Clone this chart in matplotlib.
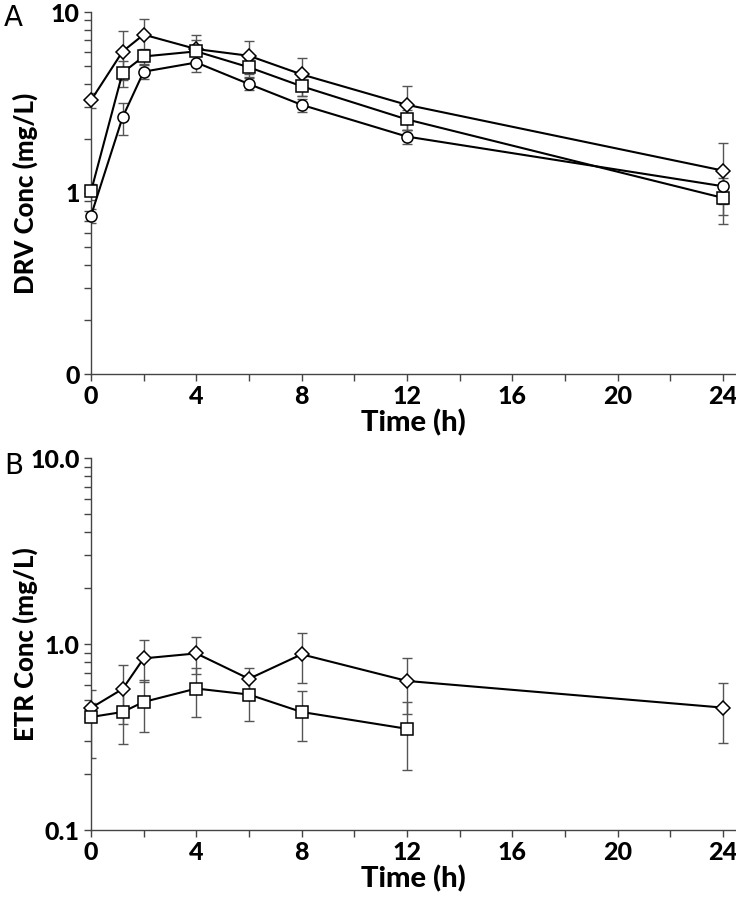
import matplotlib
matplotlib.use("Agg")
import matplotlib.pyplot as plt
from matplotlib.ticker import FixedLocator, FixedFormatter, LogLocator, NullFormatter

# ---- data ----
times = [0, 1.2, 2, 4, 6, 8, 12, 24]
times_etr_sq = [0, 1.2, 2, 4, 6, 8, 12]

drv_diamond = [3.25, 6.05, 7.5, 6.24, 5.73, 4.52, 3.07, 1.33]
drv_diamond_sd = [0.30, 1.85, 1.70, 1.20, 1.20, 1.08, 0.85, 0.57]
drv_square = [1.02, 4.62, 5.68, 6.06, 4.95, 3.89, 2.55, 0.94]
drv_square_sd = [0.10, 0.75, 0.55, 0.90, 0.55, 0.47, 0.31, 0.27]
drv_circle = [0.75, 2.62, 4.68, 5.26, 4.00, 3.07, 2.05, 1.09]
drv_circle_sd = [0.07, 0.52, 0.42, 0.58, 0.30, 0.25, 0.19, 0.22]

etr_diamond = [0.453, 0.573, 0.837, 0.89, 0.65, 0.88, 0.633, 0.455]
etr_diamond_sd = [0.03, 0.20, 0.21, 0.20, 0.09, 0.26, 0.21, 0.16]
etr_square = [0.405, 0.431, 0.488, 0.576, 0.535, 0.431, 0.35]
etr_square_sd = [0.16, 0.14, 0.15, 0.17, 0.15, 0.13, 0.14]

x_ticks = [0, 4, 8, 12, 16, 20, 24]
x_minor = [2, 6, 10, 14, 18, 22]
drv_yticks = [0.1, 1, 10]
drv_ylabels = ["0", "1", "10"]
etr_yticks = [0.1, 1, 10]
etr_ylabels = ["0.1", "1.0", "10.0"]

FONT = "Lato"

fig = plt.figure(figsize=(7.36, 8.98), dpi=100)
W, H = 736, 898
LEFT, RIGHT = 91, 736


def make_ax(top_px, bot_px):
    return fig.add_axes([LEFT / W, 1 - bot_px / H, (RIGHT - LEFT) / W, (bot_px - top_px) / H])


def style(ax, yticks, ylabels, ylabel):
    ax.set_yscale("log")
    ax.set_ylim(0.1, 10)
    ax.set_xlim(0, 24.5)
    ax.yaxis.set_major_locator(FixedLocator(yticks))
    ax.yaxis.set_major_formatter(FixedFormatter(ylabels))
    ax.yaxis.set_minor_locator(LogLocator(base=10, subs=range(2, 10)))
    ax.yaxis.set_minor_formatter(NullFormatter())
    ax.xaxis.set_major_locator(FixedLocator(x_ticks))
    ax.xaxis.set_minor_locator(FixedLocator(x_minor))
    for s in ["top", "right"]:
        ax.spines[s].set_visible(False)
    for s in ["left", "bottom"]:
        ax.spines[s].set_color("#444444")
        ax.spines[s].set_linewidth(1.0)
    ax.tick_params(which="both", direction="out", color="#444444", width=1.0)
    ax.tick_params(which="major", length=5, pad=3)
    ax.tick_params(which="minor", length=5)
    for lab in ax.get_xticklabels() + ax.get_yticklabels():
        lab.set_fontfamily(FONT)
        lab.set_fontweight("black")
        lab.set_fontsize(18)
    ax.set_xlabel("Time (h)", fontfamily=FONT, fontweight="black", fontsize=21, labelpad=1)
    lbl = ax.set_ylabel(ylabel, fontfamily=FONT, fontweight="black", fontsize=18.5)
    ax.yaxis.set_label_coords((25 - LEFT) / (RIGHT - LEFT), 0.5)
    lbl.set_va("center")


def series(ax, x, y, sd, marker, ms):
    ax.errorbar(x, y, yerr=sd, fmt="none", ecolor="#555555", elinewidth=1.0,
                capsize=3.5, capthick=1.0, zorder=2)
    ax.plot(x, y, color="black", lw=1.5, marker=marker, ms=ms,
            mfc="white", mec="black", mew=1.1, zorder=3, clip_on=False)


ax1 = make_ax(12, 374)
series(ax1, times, drv_diamond, drv_diamond_sd, "D", 7)
series(ax1, times, drv_square, drv_square_sd, "s", 8)
series(ax1, times, drv_circle, drv_circle_sd, "o", 8)
style(ax1, drv_yticks, drv_ylabels, "DRV Conc (mg/L)")

ax2 = make_ax(458, 830)
series(ax2, times, etr_diamond, etr_diamond_sd, "D", 7)
series(ax2, times_etr_sq, etr_square, etr_square_sd, "s", 8)
style(ax2, etr_yticks, etr_ylabels, "ETR Conc (mg/L)")

fig.text(13 / W, 1 - 18 / H, "A", fontfamily="DejaVu Sans", fontsize=20, ha="center", va="center")
fig.text(14 / W, 1 - 466 / H, "B", fontfamily="DejaVu Sans", fontsize=20, ha="center", va="center")

fig.savefig("out.png", dpi=100)
